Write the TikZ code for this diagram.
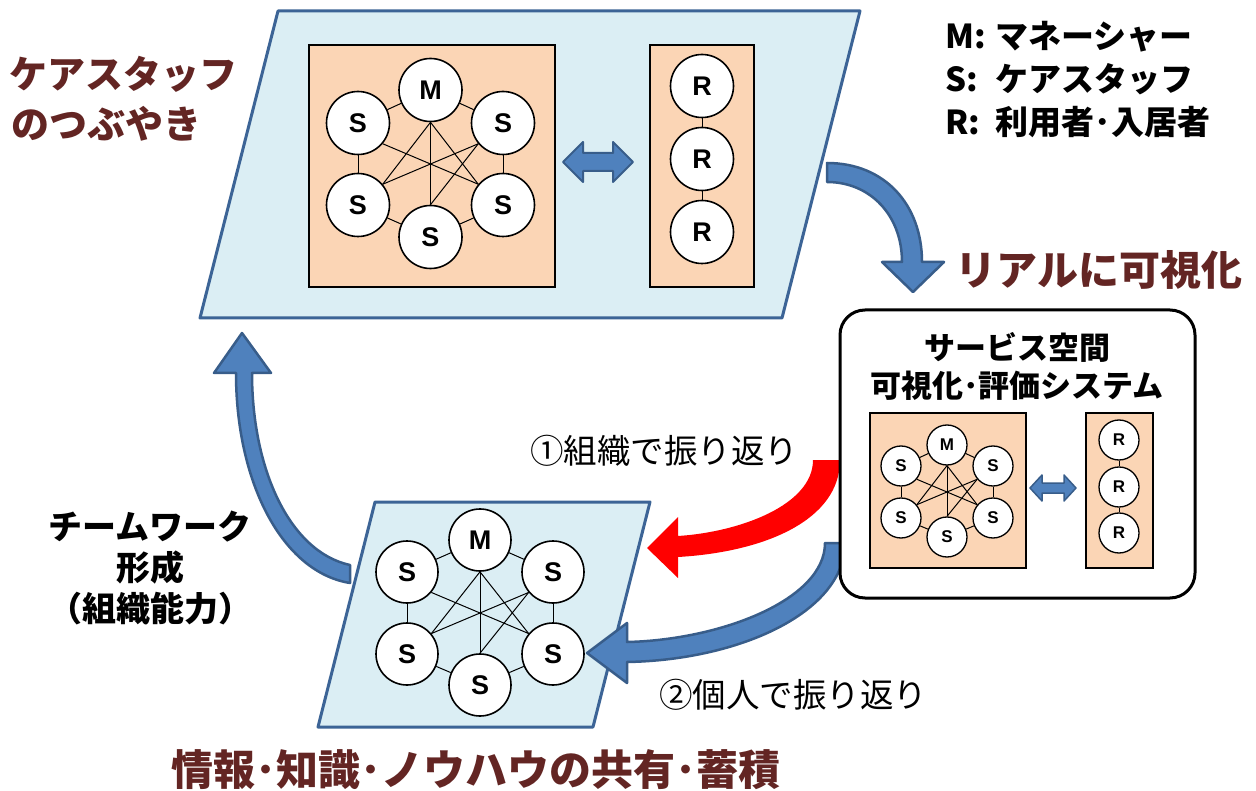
\documentclass[tikz,border=0pt]{standalone}
\usepackage{fontspec}
\setmainfont{Noto Sans CJK JP}
\newfontfamily\jp{Noto Sans CJK JP}
\newfontfamily\lat{Liberation Sans}
\usetikzlibrary{shapes.geometric}
\definecolor{paraFill}{RGB}{219,238,244}
\definecolor{paraLine}{RGB}{60,100,150}
\definecolor{peach}{RGB}{251,213,181}
\definecolor{arrowBlue}{RGB}{79,129,189}
\definecolor{arrowLine}{RGB}{56,93,138}
\definecolor{darkred}{RGB}{99,37,35}
\newcommand\fs[1]{\fontsize{#1}{#1}\selectfont}
\newcommand\hdot{･}
\tikzset{
  para/.style={draw=paraLine, line width=3, fill=paraFill, line join=round},
  peachbox/.style={draw=black, line width=1.5, fill=peach},
  bignode/.style={circle, draw=black, line width=1.6, fill=white, inner sep=0, minimum size=63, font=\lat\bfseries\fs{27}},
  midnode/.style={circle, draw=black, line width=1.6, fill=white, inner sep=0, minimum size=62, font=\lat\bfseries\fs{27}},
  smallnode/.style={circle, draw=black, line width=1.3, fill=white, inner sep=0, minimum size=40, font=\lat\bfseries\fs{17}},
  link/.style={draw=black, line width=1},
  blockarrow/.style={fill=arrowBlue, draw=arrowLine, line width=2.5, line join=round},
  titletext/.style={text=darkred, font=\jp\bfseries\fs{38}},
  legend/.style={anchor=west, font=\jp\bfseries\fs{33}},
  bodytext/.style={font=\jp\fs{33.5}},
}
% network: prefix, style, xM, yM, dx, dy1, dy2, dy3
\newcommand\StaffNet[8]{%
  \node[#2] (#1M) at (#3,#4) {M};
  \node[#2] (#1a) at ({#3-#5},{#4+#6}) {S};
  \node[#2] (#1b) at ({#3+#5},{#4+#6}) {S};
  \node[#2] (#1c) at ({#3-#5},{#4+#7}) {S};
  \node[#2] (#1d) at ({#3+#5},{#4+#7}) {S};
  \node[#2] (#1e) at (#3,{#4+#8}) {S};
  \draw[link] (#1M) -- (#1a);
  \draw[link] (#1M) -- (#1b);
  \draw[link] (#1a) -- (#1c);
  \draw[link] (#1b) -- (#1d);
  \draw[link] (#1c) -- (#1e);
  \draw[link] (#1d) -- (#1e);
  \draw[link] (#1M.south) -- (#1c.40);
  \draw[link] (#1M.south) -- (#1d.140);
  \draw[link] (#1M.south) -- (#1e.north);
  \draw[link] (#1a.-40) -- (#1d.140);
  \draw[link] (#1b.220) -- (#1c.40);
  \draw[link] (#1b.220) -- (#1e.north);
}
\begin{document}
\begin{tikzpicture}[x=1pt,y=-1pt]
\useasboundingbox (0,0) rectangle (1256,791);
\fill[white] (0,0) rectangle (1256,791);

% ---------- top parallelogram ----------
\path[para] (278,11) -- (860,11) -- (782,318) -- (200,318) -- cycle;
\node[peachbox, minimum width=246, minimum height=242, inner sep=0] (teamTop) at (432,166) {};
\node[peachbox, minimum width=104, minimum height=242, inner sep=0] (resTop) at (702,166) {};
\StaffNet{t}{bignode}{430.5}{90}{72.5}{33}{115}{147}
\node[bignode] (tR1) at (702,86) {R};
\node[bignode] (tR2) at (702,159) {R};
\node[bignode] (tR3) at (702,232) {R};
\draw[link] (tR1) -- (tR2);
\draw[link] (tR2) -- (tR3);
\draw[blockarrow, line width=2, shift={(598,162)}]
  (-35,0) -- (-15,-20) -- (-15,-9) -- (15,-9) -- (15,-20) -- (35,0)
  -- (15,20) -- (15,9) -- (-15,9) -- (-15,20) -- cycle;

% ---------- bottom parallelogram ----------
\path[para] (375,502) -- (650,502) -- (593,727) -- (318,727) -- cycle;
\StaffNet{b}{midnode}{480}{540}{73}{32}{114}{145}

% ---------- texts ----------
\node[titletext, anchor=west] (care1) at (6,74) {ケアスタッフ};
\node[titletext, anchor=west] (care2) at (8,124) {のつぶやき};
\node[titletext, anchor=west, font=\jp\bfseries\fs{41}] (real) at (952,270) {リアルに可視化};
\node[titletext, font=\jp\bfseries\fs{42}] (share) at (476,770) {情報\hdot 知識\hdot ノウハウの共有\hdot 蓄積};

\node[legend] (legM) at (942,37) {\makebox[50pt][l]{M:}マネーシャー};
\node[legend] (legS) at (942,79) {\makebox[50pt][l]{S:}ケアスタッフ};
\node[legend] (legR) at (942,122) {\makebox[50pt][l]{R:}利用者\hdot 入居者};

\node[font=\jp\bfseries\fontsize{34}{41}\selectfont, align=center, inner sep=0] (team) at (150,568)
  {チームワーク\\形成\\\makebox[21pt][r]{（}組織能力\makebox[21pt][l]{）}};

\node[bodytext, anchor=west, inner sep=0] (fb1) at (530,451) {①組織で振り返り};
\node[bodytext, anchor=west, inner sep=0] (fb2) at (659,695) {②個人で振り返り};

% ---------- big arrows ----------
% top-right arrow
\path[blockarrow] (827,163) .. controls (885,163) and (922,205) .. (922,262)
  -- (944,262) -- (913,292) -- (882,262) -- (902,262)
  .. controls (902,215) and (870,182) .. (827,182) -- cycle;
% left arrow up
\path[blockarrow] (350,565) .. controls (290,552) and (252,470) .. (252,373)
  -- (271,373) -- (242,333) -- (214,373) -- (236,373)
  .. controls (236,482) and (282,572) .. (350,583) -- cycle;
% bottom blue arrow
\path[blockarrow] (825,543) .. controls (825,600) and (720,640) .. (627,642)
  -- (627,623) -- (587,653) -- (627,683) -- (627,662)
  .. controls (740,660) and (845,612) .. (845,543) -- cycle;
% red arrow
\fill[red] (813,460) .. controls (813,505) and (740,532) .. (678,536)
  -- (678,517) -- (647,548) -- (678,578) -- (678,557)
  .. controls (765,552) and (840,520) .. (840,460) -- cycle;

% ---------- right system box ----------
\node[draw=black, line width=3, rounded corners=25, fill=white, minimum width=355, minimum height=288, inner sep=0] (sys) at (1017.5,454) {};
\node[font=\jp\bfseries\fontsize{31}{38}\selectfont, align=center, inner sep=0] (sysTitle) at (1017,366)
  {サービス空間\\可視化\hdot 評価システム};
\node[peachbox, line width=1.3, minimum width=156, minimum height=155, inner sep=0] (teamSys) at (948,490.5) {};
\node[peachbox, line width=1.3, minimum width=67, minimum height=155, inner sep=0] (resSys) at (1119.5,490.5) {};
\StaffNet{s}{smallnode}{947}{445}{46}{21}{73}{92}
\node[smallnode] (sR1) at (1119,440) {R};
\node[smallnode] (sR2) at (1119,487) {R};
\node[smallnode] (sR3) at (1119,533) {R};
\draw[link] (sR1) -- (sR2);
\draw[link] (sR2) -- (sR3);
\draw[blockarrow, line width=1.5, shift={(1053,488)}]
  (-23,0) -- (-11,-13) -- (-11,-5) -- (11,-5) -- (11,-13) -- (23,0)
  -- (11,13) -- (11,5) -- (-11,5) -- (-11,13) -- cycle;
\end{tikzpicture}
\end{document}
